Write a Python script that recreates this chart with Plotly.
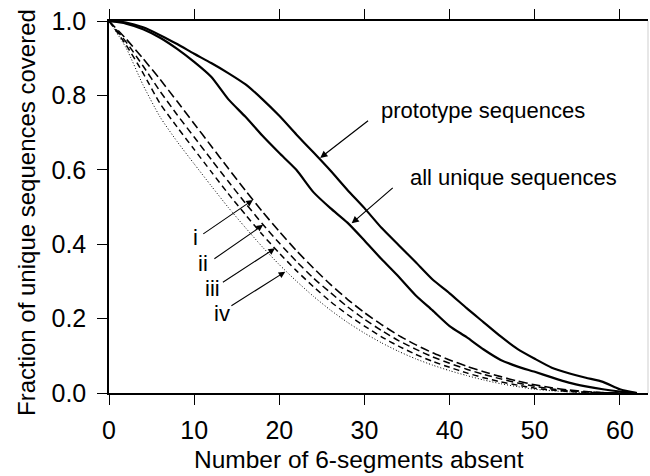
import plotly.graph_objects as go

# Number of 6-segments absent (abscissa shared by all curves)
x_seg = [0, 2, 4, 6, 8, 10, 12, 14, 16, 18, 20, 22, 24, 26, 28, 30, 32, 34, 36, 38,
         40, 42, 44, 46, 48, 50, 52, 54, 56, 58, 60, 62]

prototype = [1.000, 0.996, 0.983, 0.962, 0.938, 0.912, 0.887, 0.860, 0.830, 0.790,
             0.745, 0.695, 0.647, 0.598, 0.546, 0.497, 0.444, 0.398, 0.352, 0.305,
             0.268, 0.228, 0.190, 0.152, 0.118, 0.092, 0.068, 0.053, 0.041, 0.030,
             0.010, 0.000]

all_unique = [1.000, 0.993, 0.978, 0.955, 0.925, 0.890, 0.850, 0.790, 0.743, 0.692,
              0.645, 0.600, 0.540, 0.497, 0.458, 0.410, 0.360, 0.313, 0.263, 0.222,
              0.180, 0.150, 0.117, 0.089, 0.071, 0.057, 0.042, 0.028, 0.018, 0.010,
              0.004, 0.000]

curve_i = [1.000, 0.952, 0.899, 0.843, 0.784, 0.724, 0.664, 0.604, 0.545, 0.488,
           0.434, 0.383, 0.336, 0.292, 0.252, 0.216, 0.184, 0.155, 0.130, 0.108,
           0.089, 0.072, 0.057, 0.044, 0.032, 0.022, 0.014, 0.008, 0.004, 0.001,
           0.000, 0.000]

curve_ii = [1.000, 0.944, 0.879, 0.811, 0.748, 0.688, 0.628, 0.569, 0.511, 0.455,
            0.403, 0.354, 0.309, 0.270, 0.232, 0.198, 0.168, 0.141, 0.118, 0.097,
            0.080, 0.064, 0.050, 0.038, 0.027, 0.018, 0.011, 0.006, 0.003, 0.001,
            0.000, 0.000]

curve_iii = [1.000, 0.936, 0.860, 0.778, 0.715, 0.655, 0.595, 0.536, 0.480, 0.426,
             0.376, 0.329, 0.286, 0.246, 0.211, 0.180, 0.151, 0.126, 0.104, 0.085,
             0.069, 0.054, 0.041, 0.030, 0.021, 0.013, 0.008, 0.004, 0.002, 0.0005,
             0.000, 0.000]

curve_iv = [1.000, 0.928, 0.828, 0.742, 0.676, 0.616, 0.557, 0.499, 0.445, 0.393,
            0.345, 0.301, 0.260, 0.223, 0.190, 0.161, 0.135, 0.112, 0.092, 0.075,
            0.060, 0.047, 0.035, 0.025, 0.017, 0.010, 0.006, 0.003, 0.001, 0.000,
            0.000, 0.000]

x_ticks = [0, 10, 20, 30, 40, 50, 60]
y_ticks = [0.0, 0.2, 0.4, 0.6, 0.8, 1.0]
y_ticklabels = ["0.0", "0.2", "0.4", "0.6", "0.8", "1.0"]

FONT = "Liberation Sans, Arial, sans-serif"

fig = go.Figure()

def add_curve(y, width, dash, shape="spline"):
    fig.add_trace(go.Scatter(
        x=x_seg, y=y, mode="lines",
        line=dict(color="black", width=width, dash=dash, shape=shape, smoothing=0.6),
        showlegend=False, hoverinfo="skip"))

add_curve(curve_iv, 1.0, "1px,2px")
add_curve(curve_iii, 1.5, "6px,4px")
add_curve(curve_ii, 1.5, "7px,4px")
add_curve(curve_i, 1.6, "9px,4px")
add_curve(all_unique, 2.2, "solid")
add_curve(prototype, 2.2, "solid")

# Text labels with pointer arrows (head on the curve, tail at the label)
labels = [
    # text, head x, head y, tail x, tail y, label x, label y
    ("prototype sequences", 24.8, 0.632, 30.6, 0.735, 31.7, 0.759),
    ("all unique sequences", 28.5, 0.456, 33.5, 0.555, 35.1, 0.580),
]
for text, hx, hy, tx, ty, lx, ly in labels:
    fig.add_annotation(x=hx, y=hy, ax=tx, ay=ty, axref="x", ayref="y",
                       xref="x", yref="y", text="", showarrow=True,
                       arrowhead=2, arrowsize=1.2, arrowwidth=1.2, arrowcolor="black")
    fig.add_annotation(x=lx, y=ly, xref="x", yref="y", text=text, showarrow=False,
                       xanchor="left", yanchor="middle",
                       font=dict(family=FONT, size=22, color="black"))

roman = [
    ("i", 16.9, 0.519, 10.9, 0.425, 10.2, 0.417),
    ("ii", 18.1, 0.452, 12.2, 0.358, 11.0, 0.349),
    ("iii", 19.5, 0.389, 13.2, 0.295, 12.1, 0.282),
    ("iv", 20.7, 0.326, 14.2, 0.232, 13.3, 0.215),
]
for text, hx, hy, tx, ty, lx, ly in roman:
    fig.add_annotation(x=hx, y=hy, ax=tx, ay=ty, axref="x", ayref="y",
                       xref="x", yref="y", text="", showarrow=True,
                       arrowhead=2, arrowsize=1.2, arrowwidth=1.1, arrowcolor="black")
    fig.add_annotation(x=lx, y=ly, xref="x", yref="y", text=text, showarrow=False,
                       xanchor="center", yanchor="middle",
                       font=dict(family=FONT, size=22, color="black"))

# Axis titles
fig.add_annotation(x=0.464, y=-0.18, xref="paper", yref="paper",
                   text="Number of 6-segments absent", showarrow=False,
                   xanchor="center", yanchor="middle",
                   font=dict(family=FONT, size=24.5, color="black"))
fig.add_annotation(x=-0.152, y=0.484, xref="paper", yref="paper",
                   text="Fraction of unique sequences covered", showarrow=False,
                   textangle=-90, xanchor="center", yanchor="middle",
                   font=dict(family=FONT, size=24, color="black"))

# Faint right-hand frame edge
fig.add_shape(type="line", xref="paper", yref="paper", x0=1, x1=1, y0=0, y1=1,
              line=dict(color="#cfcfcf", width=1))

fig.update_xaxes(
    range=[0, 63.3], tickvals=x_ticks, ticks="outside", ticklen=10, tickwidth=1,
    tickcolor="black", showline=True, linecolor="black", linewidth=1.5,
    mirror="ticks", showgrid=False, zeroline=False, ticklabelstandoff=4,
    tickfont=dict(family=FONT, size=25, color="black"))

fig.update_yaxes(
    range=[0, 1.0], tickvals=y_ticks, ticktext=y_ticklabels, ticks="outside",
    ticklen=10, tickwidth=1, tickcolor="black", showline=True, linecolor="black",
    linewidth=1.5, showgrid=False, zeroline=False, ticklabelstandoff=6,
    tickfont=dict(family=FONT, size=25, color="black"))

fig.update_layout(
    width=650, height=476,
    margin=dict(l=109, r=2, t=21, b=83),
    paper_bgcolor="white", plot_bgcolor="white",
    showlegend=False)

fig.write_html("out.html")
